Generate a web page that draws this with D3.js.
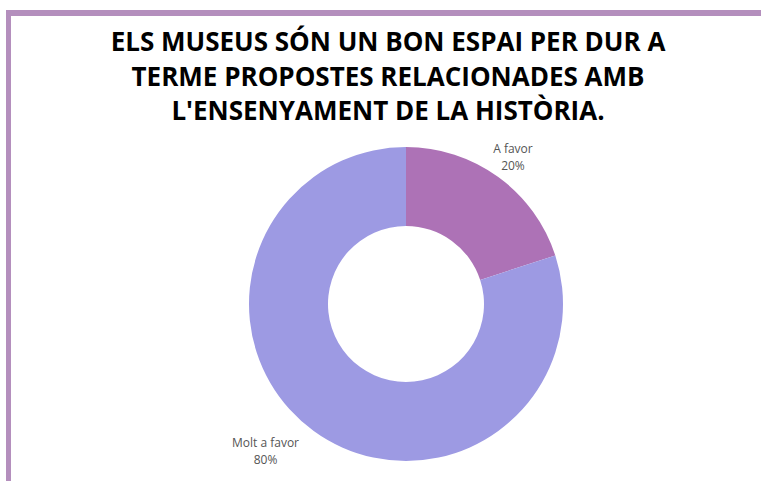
<!DOCTYPE html>
<html>
<head>
<meta charset="utf-8">
<script src="https://cdn.jsdelivr.net/npm/d3@7"></script>
<style>
  body { margin: 0; background: #fff; }
  svg { display: block; font-family: "Open Sans", sans-serif; }
</style>
</head>
<body>
<div id="chart"></div>
<script>
const titleLines = [
  "ELS MUSEUS SÓN UN BON ESPAI PER DUR A",
  "TERME PROPOSTES RELACIONADES AMB",
  "L'ENSENYAMENT DE LA HISTÒRIA."
]
const categories = ["A favor", "Molt a favor"]
const values = [20, 80]
const colors = ["#ad72b6", "#9d9ae3"]

const width = 761
const height = 481
const cx = 406, cy = 304
const outerR = 157, innerR = 78, labelR = 182

const svg = d3.select("#chart").append("svg")
  .attr("width", width)
  .attr("height", height)

// frame
svg.append("rect").attr("x", 6).attr("y", 10).attr("width", width - 6).attr("height", 6).attr("fill", "#b48fbd")
svg.append("rect").attr("x", 6).attr("y", 10).attr("width", 5).attr("height", height - 10).attr("fill", "#b48fbd")

svg.append("g").selectAll("text")
  .data(titleLines)
  .enter().append("text")
  .attr("x", 388)
  .attr("y", (d, i) => 51 + i * 34.5)
  .attr("text-anchor", "middle")
  .style("font-size", "26px")
  .style("font-weight", 700)
  .style("fill", "#000")
  .text(d => d)

const data = categories.map((c, i) => ({name: c, value: values[i]}))
const pie = d3.pie().sort(null).value(d => d.value)
const arc = d3.arc().innerRadius(innerR).outerRadius(outerR)
const labelArc = d3.arc().innerRadius(labelR).outerRadius(labelR)
const total = d3.sum(values)

const g = svg.append("g").attr("transform", "translate(" + cx + "," + cy + ")")

g.selectAll("path")
  .data(pie(data))
  .enter().append("path")
  .attr("d", arc)
  .attr("fill", (d, i) => colors[i])

const lab = g.selectAll(".lab")
  .data(pie(data))
  .enter().append("text")
  .attr("class", "lab")
  .attr("transform", d => "translate(" + labelArc.centroid(d) + ")")
  .attr("text-anchor", "middle")
  .style("font-size", "12px")
  .style("fill", "#555")

lab.append("tspan").attr("x", 0).attr("y", -4).text(d => d.data.name)
lab.append("tspan").attr("x", 0).attr("y", 13).text(d => Math.round(d.value / total * 100) + "%")

// labels on the left sit with their right edge at the anchor point
lab.each(function(d) {
  if (labelArc.centroid(d)[0] < 0) {
    const w = d3.select(this).select("tspan").node().getComputedTextLength()
    d3.select(this).selectAll("tspan").attr("x", -w / 2)
  }
})
</script>
</body>
</html>
